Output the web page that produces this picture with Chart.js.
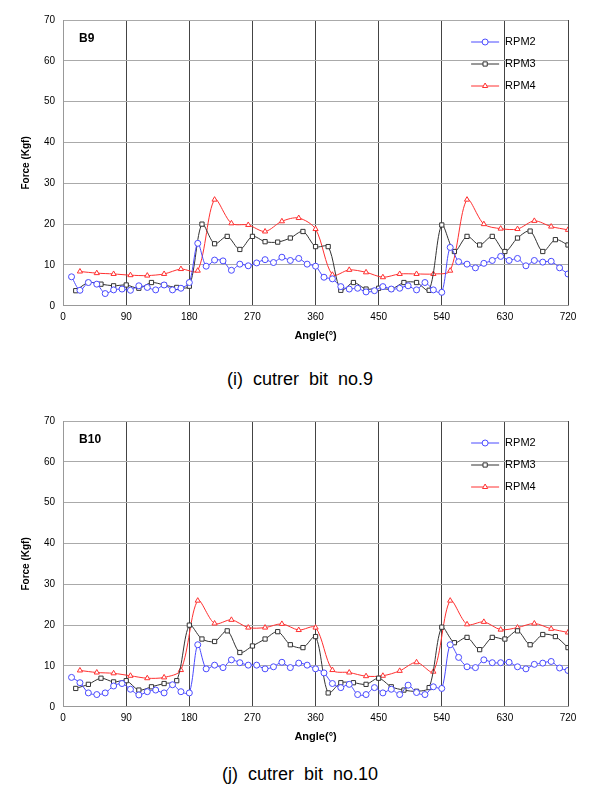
<!DOCTYPE html>
<html>
<head>
<meta charset="utf-8">
<script src="https://cdn.jsdelivr.net/npm/chart.js@4.4.0/dist/chart.umd.min.js"></script>
<style>
  body { margin: 0; background: #fff; font-family: "Liberation Sans", Arial, sans-serif; }
  .box { position: absolute; left: 0; width: 600px; height: 345px; }
  .cap { position: absolute; width: 600px; text-align: center; font-size: 18px; color: #000; }
</style>
</head>
<body>
<div class="box" style="top:0"><canvas id="c9"></canvas></div>
<div class="cap" style="top:369px">(i)&nbsp; cutrer&nbsp; bit&nbsp; no.9</div>
<div class="box" style="top:401px"><canvas id="c10"></canvas></div>
<div class="cap" style="top:764px">(j)&nbsp; cutrer&nbsp; bit&nbsp; no.10</div>
<script>
// x positions of the samples (degrees)
const angles2 = Array.from({length: 60}, (_, i) => 12 * (i + 1));
const angles3 = Array.from({length: 40}, (_, i) => 18 * (i + 1));
const angles4 = Array.from({length: 30}, (_, i) => 24 * (i + 1));
const xTicks = [0, 90, 180, 270, 360, 450, 540, 630, 720];

// B9
const b9rpm2 = [7.1, 3.8, 5.7, 5.3, 3.0, 3.9, 4.1, 3.8, 4.9, 4.5, 3.9, 5.1, 3.9, 4.3, 5.7, 15.3, 9.7, 11.2, 11.0, 8.7,
  10.2, 9.8, 10.5, 11.3, 10.6, 11.9, 11.1, 11.6, 10.2, 9.7, 7.0, 6.6, 4.7, 4.1, 4.3, 3.4, 3.7, 4.7, 4.1, 4.3,
  4.9, 3.9, 5.7, 3.9, 3.3, 14.3, 10.8, 10.2, 9.3, 10.4, 11.1, 12.1, 11.1, 11.6, 9.8, 11.1, 10.7, 10.9, 9.3, 7.8];
const b9rpm3 = [3.7, 5.7, 5.3, 4.9, 5.1, 4.3, 5.7, 5.1, 4.5, 4.8, 20.0, 15.2, 17.0, 13.8, 17.0, 15.7, 15.6, 16.6, 18.2, 14.5,
  14.5, 3.8, 5.7, 4.1, 4.3, 4.1, 5.7, 5.7, 3.8, 19.8, 13.3, 17.0, 14.9, 17.0, 13.3, 16.6, 18.3, 13.3, 16.2, 14.9];
const b9rpm4 = [8.4, 8.0, 7.8, 7.5, 7.4, 7.8, 9.0, 8.6, 26.0, 20.2, 19.8, 18.2, 20.7, 21.5, 18.8,
  7.6, 8.8, 8.2, 7.0, 7.8, 7.8, 7.8, 8.6, 26.0, 20.0, 18.9, 18.8, 20.8, 19.4, 18.6];

// B10
const b10rpm2 = [7.2, 5.9, 3.4, 3.0, 3.4, 5.1, 5.7, 4.3, 2.9, 3.7, 4.1, 3.4, 5.4, 3.7, 3.4, 15.2, 9.3, 10.2, 9.6, 11.5,
  10.8, 10.2, 10.2, 9.3, 9.8, 10.9, 9.6, 10.7, 10.2, 9.3, 8.3, 5.7, 4.7, 5.5, 3.0, 3.0, 4.7, 3.4, 4.3, 3.0,
  5.3, 3.5, 3.0, 4.9, 4.5, 15.2, 12.1, 9.8, 9.6, 11.5, 10.8, 10.8, 10.9, 9.8, 9.3, 10.4, 10.7, 11.1, 9.5, 8.9];
const b10rpm3 = [4.5, 5.5, 7.0, 6.1, 6.4, 4.1, 4.9, 5.7, 6.4, 20.0, 16.6, 16.0, 18.6, 13.3, 14.9, 16.6, 18.4, 15.2, 14.5, 17.2,
  3.4, 5.9, 5.9, 5.5, 7.0, 4.9, 4.1, 3.8, 4.7, 19.5, 15.7, 17.0, 14.0, 17.0, 16.6, 18.6, 15.2, 17.7, 17.2, 14.5];
const b10rpm4 = [8.9, 8.4, 8.2, 7.6, 7.0, 7.2, 9.0, 26.0, 20.4, 21.3, 19.4, 19.4, 20.3, 18.8, 19.4,
  9.0, 8.4, 7.5, 7.6, 8.8, 10.9, 8.6, 26.0, 20.2, 20.8, 18.9, 19.4, 20.4, 19.1, 18.2];

const seriesNames = ['RPM2', 'RPM3', 'RPM4'];
const colors = ['#4a4aff', '#333333', '#ff3030'];
const markers = ['circle', 'rect', 'triangle'];

function pts(xs, ys) { return xs.map((x, i) => ({x: x, y: ys[i]})); }

// legend drawn inside the plot, line + marker + text
const innerLegend = {
  id: 'innerLegend',
  afterDraw(chart, args, opts) {
    const c = chart.ctx, a = chart.chartArea;
    c.save();
    c.textBaseline = 'middle';
    c.fillStyle = '#000';
    c.font = 'bold 12px "Liberation Sans", Arial';
    c.fillText(opts.title, a.left + 16, a.top + 19);
    c.font = '11px "Liberation Sans", Arial';
    seriesNames.forEach((n, i) => {
      const y = a.top + 22 + i * 22, x = a.left + 408;
      c.strokeStyle = colors[i]; c.lineWidth = 1;
      c.beginPath(); c.moveTo(x, y); c.lineTo(x + 28, y); c.stroke();
      c.fillStyle = '#fff';
      Chart.helpers.drawPoint(c, {pointStyle: markers[i], radius: 3, borderWidth: 1}, x + 14, y);
      c.fillStyle = '#000';
      c.fillText(n, x + 34, y);
    });
    c.restore();
  }
};

function makeChart(id, title, r2, r3, r4) {
  const sets = [pts(angles2, r2), pts(angles3, r3), pts(angles4, r4)];
  new Chart(document.getElementById(id), {
    type: 'line',
    data: {
      datasets: sets.map((d, i) => ({
        label: seriesNames[i], data: d,
        borderColor: colors[i], backgroundColor: '#fff', borderWidth: 1,
        pointStyle: markers[i], pointRadius: 3, pointBorderWidth: 1,
        pointBorderColor: colors[i], tension: 0.3
      }))
    },
    plugins: [innerLegend],
    options: {
      responsive: false, animation: false,
      layout: {padding: {top: 20, right: 32, left: 16, bottom: 0}},
      plugins: {legend: {display: false}, tooltip: {enabled: false}, innerLegend: {title: title}},
      scales: {
        x: {
          type: 'linear', min: 0, max: 720,
          afterBuildTicks: ax => { ax.ticks = xTicks.map(v => ({value: v})); },
          grid: {color: '#444', lineWidth: 1, drawTicks: false},
          border: {color: '#999'},
          ticks: {color: '#000', font: {size: 10, family: '"Liberation Sans", Arial'}, padding: 5},
          title: {display: true, text: 'Angle(°)', color: '#000', font: {size: 11, weight: 'bold', family: '"Liberation Sans", Arial'}, padding: 2}
        },
        y: {
          min: 0, max: 70,
          grid: {color: '#aaa', lineWidth: 1, drawTicks: false},
          border: {color: '#999'},
          ticks: {stepSize: 10, color: '#000', font: {size: 10, family: '"Liberation Sans", Arial'}, padding: 8},
          title: {display: true, text: 'Force (Kgf)', color: '#000', font: {size: 10, weight: 'bold', family: '"Liberation Sans", Arial'}, padding: 4}
        }
      }
    }
  });
}

['c9', 'c10'].forEach(id => { const c = document.getElementById(id); c.width = 600; c.height = 345; });
makeChart('c9', 'B9', b9rpm2, b9rpm3, b9rpm4);
makeChart('c10', 'B10', b10rpm2, b10rpm3, b10rpm4);
</script>
</body>
</html>
